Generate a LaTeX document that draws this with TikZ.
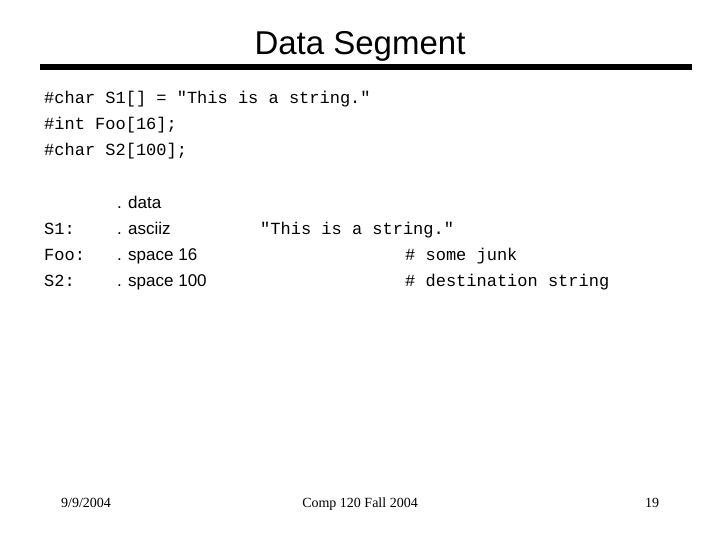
\documentclass[tikz,border=0pt]{standalone}
\usepackage{fontspec}
\setmainfont{Liberation Serif}
\setsansfont{Liberation Sans}
\setmonofont{Liberation Mono}
\begin{document}
\begin{tikzpicture}[x=1pt,y=-1pt,
  code/.style={anchor=base west,inner sep=0pt,font=\ttfamily\fontsize{17}{20}\selectfont},
  dir/.style={anchor=base west,inner sep=0pt,font=\sffamily\fontsize{17}{20}\selectfont},
  foot/.style={anchor=base,inner sep=0pt,font=\rmfamily\fontsize{14}{16}\selectfont}]
\useasboundingbox (0,0) rectangle (720,540);
\node[anchor=base,inner sep=0pt,font=\sffamily\fontsize{33}{38}\selectfont] (title) at (360,55) {Data Segment};
\draw[line width=6pt] (40,67) -- (692,67);
\node[code] (l1) at (44,104) {\#char S1[] = "This is a string."};
\node[code] (l2) at (44,130) {\#int Foo[16];};
\node[code] (l3) at (44,156) {\#char S2[100];};
\node[dir] (d0) at (117,208) {. data};
\node[code] (s1) at (44,234) {S1:};
\node[dir] (d1) at (117,234) {. asciiz};
\node[code] (str) at (260,234) {"This is a string."};
\node[code] (foo) at (44,260) {Foo:};
\node[dir] (d2) at (117,260) {. space 16};
\node[code] (c1) at (405,260) {\# some junk};
\node[code] (s2) at (44,286) {S2:};
\node[dir] (d3) at (117,286) {. space 100};
\node[code] (c2) at (405,286) {\# destination string};
\node[foot] (date) at (86,507) {9/9/2004};
\node[foot] (course) at (360,507) {Comp 120 Fall 2004};
\node[foot] (page) at (652,507) {19};
\end{tikzpicture}
\end{document}
